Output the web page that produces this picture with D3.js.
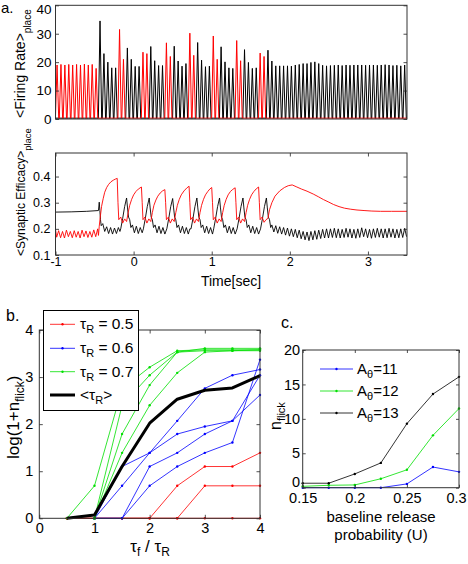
<!DOCTYPE html>
<html><head><meta charset="utf-8">
<script src="https://cdn.jsdelivr.net/npm/d3@7"></script>
<style>
body{margin:0;background:#fff;}
svg{display:block;font-family:"Liberation Sans",Arial,sans-serif;}
</style></head><body>
<svg id="c" width="468" height="564"></svg>
<script>
// ---------------- DATA ----------------
// Panel a (top): population firing-rate peaks per 20 Hz cycle
const frTime = [-0.98,-0.93,-0.88,-0.83,-0.78,-0.73,-0.68,-0.63,-0.58,-0.53,-0.48,-0.43,-0.38,-0.33,-0.28,-0.23,-0.18,-0.13,-0.08,-0.03,0.02,0.07,0.12,0.17,0.22,0.27,0.32,0.37,0.42,0.47,0.52,0.57,0.62,0.67,0.72,0.77,0.82,0.87,0.92,0.97,1.02,1.07,1.12,1.17,1.22,1.27,1.32,1.37,1.42,1.47,1.52,1.57,1.62,1.67,1.72,1.77,1.82,1.87,1.92,1.97,2.02,2.07,2.12,2.17,2.22,2.27,2.32,2.37,2.42,2.47,2.52,2.57,2.62,2.67,2.72,2.77,2.82,2.87,2.92,2.97,3.02,3.07,3.12,3.17,3.22,3.27,3.32,3.37,3.42,3.47];
const frRed = [19,19.2,19,19.2,19,19.2,19,19.3,19,19.2,17.8, 0,0,0,0,0, 31.5,21, 0,0,0,0, 23.5,23, 0,0,0,0, 26.8,22, 0,0,0,0, 30.2,22.4, 0,0,0,0, 29.2,21, 0,0,0,0, 27.6,20.5, 0,0,0,0, 23.2,22,
  0,0,0,0,0,0,0,0,0, 0,0,0,0,0,0,0,0,0, 0,0,0,0,0,0,0,0,0, 0,0,0,0,0,0,0,0,0];
const frBlack = [0,0,0,0,0,0,0,0,0,0,0, 34.5,23,20,18,18, 0,0, 25,21,18.5,18.5, 0,0, 25.5,20.5,18.8,18.8, 0,0, 25.6,20.4,18.6,19.5, 0,0, 26.9,20.7,18.4,18.6, 0,0, 25.4,20.1,18,17.8, 0,0, 24.4,19.9,17.8,18, 0,0,
  24.2,20.4,18.7,18.7,18.7,18.7,18.6,19,19.2,19.5,19.5,19.9,20.1,19.5,18.9,18.7,18.8,18.9,19,18.8,19,18.9,19,19,19,18.9,19,19,18.9,19,19.1,19,18.8,18.9,18.7,19];
const frBase = 0.3;
const frTicks = [0,10,20,30,40];

// Panel a (bottom): synaptic efficacy traces [time, value]
const effRed = [[-1,0.198],[-0.985,0.168],[-0.96,0.193],[-0.935,0.166],[-0.91,0.19],[-0.885,0.165],[-0.86,0.195],[-0.835,0.17],[-0.81,0.19],[-0.785,0.166],[-0.76,0.193],[-0.735,0.168],[-0.71,0.19],[-0.685,0.165],[-0.66,0.195],[-0.635,0.17],[-0.61,0.192],[-0.585,0.167],[-0.56,0.19],[-0.535,0.168],[-0.51,0.196],[-0.485,0.17],[-0.46,0.2],[-0.45,0.175],
 [-0.44,0.21],[-0.425,0.25],[-0.41,0.286],[-0.39,0.315],[-0.37,0.34],[-0.345,0.358],[-0.32,0.37],[-0.29,0.38],[-0.26,0.386],[-0.235,0.39],[-0.21,0.393],
 [-0.2,0.3],[-0.19,0.235],[-0.165,0.245],[-0.14,0.222],[-0.115,0.238],[-0.09,0.228],[-0.07,0.262],[-0.05,0.29],[-0.025,0.313],[0.0,0.33],[0.03,0.343],[0.06,0.352],[0.1,0.36],
 [0.11,0.3],[0.12,0.235],[0.145,0.245],[0.17,0.222],[0.195,0.238],[0.22,0.228],[0.24,0.262],[0.26,0.29],[0.285,0.31],[0.31,0.325],[0.34,0.337],[0.37,0.345],[0.4,0.35],
 [0.41,0.3],[0.42,0.235],[0.445,0.245],[0.47,0.222],[0.495,0.238],[0.52,0.228],[0.54,0.262],[0.56,0.29],[0.585,0.313],[0.61,0.33],[0.645,0.345],[0.68,0.356],[0.71,0.363],
 [0.72,0.3],[0.73,0.235],[0.755,0.245],[0.78,0.222],[0.805,0.238],[0.83,0.228],[0.85,0.262],[0.87,0.29],[0.895,0.313],[0.92,0.33],[0.95,0.343],[0.975,0.352],[1.0,0.358],
 [1.01,0.3],[1.02,0.235],[1.045,0.245],[1.07,0.222],[1.095,0.238],[1.12,0.228],[1.14,0.262],[1.16,0.29],[1.185,0.313],[1.21,0.33],[1.24,0.343],[1.27,0.351],[1.3,0.357],
 [1.31,0.3],[1.32,0.235],[1.345,0.245],[1.37,0.222],[1.395,0.238],[1.42,0.228],[1.44,0.262],[1.46,0.29],[1.485,0.313],[1.51,0.33],[1.54,0.343],[1.57,0.353],[1.6,0.36],
 [1.61,0.3],[1.62,0.235],[1.645,0.245],[1.67,0.225],[1.695,0.235],[1.72,0.24],
 [1.74,0.273],[1.77,0.3],[1.81,0.325],[1.87,0.345],[1.93,0.358],[1.98,0.365],[2.03,0.368],[2.09,0.36],[2.15,0.352],[2.22,0.344],[2.3,0.333],[2.37,0.322],[2.43,0.312],[2.5,0.302],[2.56,0.293],[2.63,0.285],[2.7,0.279],[2.78,0.275],[2.86,0.272],[2.95,0.27],[3.05,0.268],[3.16,0.267],[3.3,0.267],[3.5,0.267]];
const effBlack = [[-1,0.264],[-0.8,0.265],[-0.6,0.267],[-0.45,0.27],[-0.44,0.302],[-0.432,0.27],[-0.424,0.235],[-0.415,0.212],[-0.395,0.22],[-0.37,0.19],[-0.345,0.208],[-0.32,0.182],[-0.295,0.205],[-0.27,0.18],[-0.245,0.203],[-0.22,0.182],[-0.195,0.205],[-0.175,0.19],
 [-0.165,0.2],[-0.14,0.24],[-0.115,0.285],[-0.09,0.318],[-0.078,0.28],[-0.065,0.245],[-0.05,0.235],[-0.035,0.205],[-0.015,0.215],[0.01,0.185],[0.035,0.21],[0.06,0.182],[0.085,0.205],[0.11,0.185],
 [0.125,0.2],[0.15,0.24],[0.175,0.285],[0.2,0.318],[0.212,0.28],[0.225,0.245],[0.24,0.235],[0.255,0.205],[0.275,0.215],[0.3,0.185],[0.325,0.21],[0.35,0.182],[0.375,0.205],[0.4,0.18],
 [0.425,0.2],[0.45,0.24],[0.475,0.285],[0.5,0.316],[0.512,0.28],[0.525,0.245],[0.54,0.235],[0.555,0.205],[0.575,0.215],[0.6,0.185],[0.625,0.21],[0.65,0.182],[0.675,0.205],[0.7,0.18],[0.72,0.2],
 [0.735,0.2],[0.76,0.24],[0.785,0.285],[0.81,0.318],[0.822,0.28],[0.835,0.245],[0.85,0.235],[0.865,0.205],[0.885,0.215],[0.91,0.185],[0.935,0.21],[0.96,0.182],[0.985,0.205],[1.01,0.18],
 [1.025,0.2],[1.05,0.24],[1.075,0.285],[1.1,0.318],[1.112,0.28],[1.125,0.245],[1.14,0.235],[1.155,0.205],[1.175,0.215],[1.2,0.185],[1.225,0.21],[1.25,0.182],[1.275,0.205],[1.3,0.18],
 [1.325,0.2],[1.35,0.24],[1.375,0.285],[1.4,0.318],[1.412,0.28],[1.425,0.245],[1.44,0.235],[1.455,0.205],[1.475,0.215],[1.5,0.185],[1.525,0.21],[1.55,0.182],[1.575,0.205],[1.6,0.18],
 [1.625,0.2],[1.65,0.24],[1.675,0.285],[1.7,0.318],[1.712,0.28],[1.725,0.245],[1.74,0.235],[1.755,0.205],
 [1.77,0.215],[1.795,0.188],[1.82,0.212],[1.845,0.183],[1.87,0.208],[1.895,0.18],[1.92,0.205],[1.945,0.176],[1.97,0.203],[1.995,0.172],[2.02,0.2],[2.045,0.17],[2.07,0.198],[2.095,0.166],[2.12,0.195],[2.145,0.162],[2.17,0.19],[2.195,0.158],[2.22,0.188],[2.245,0.155],[2.27,0.19],[2.295,0.158],[2.32,0.193],[2.345,0.16],[2.37,0.195],[2.395,0.163],[2.42,0.198],[2.445,0.165],[2.47,0.2],[2.495,0.165],[2.52,0.2],[2.545,0.167],[2.57,0.202],[2.595,0.166],[2.62,0.2],[2.645,0.165],[2.67,0.198],[2.695,0.167],[2.72,0.202],[2.745,0.168],[2.77,0.2],[2.795,0.165],[2.82,0.198],[2.845,0.164],[2.87,0.2],[2.895,0.167],[2.92,0.204],[2.945,0.17],[2.97,0.2],[2.995,0.166],[3.02,0.198],[3.045,0.164],[3.07,0.2],[3.095,0.167],[3.12,0.202],[3.145,0.168],[3.17,0.2],[3.195,0.165],[3.22,0.2],[3.245,0.166],[3.27,0.202],[3.295,0.168],[3.32,0.2],[3.345,0.165],[3.37,0.198],[3.395,0.166],[3.42,0.2],[3.445,0.167],[3.47,0.202],[3.495,0.17]];
const effTicks = [0.1,0.2,0.3,0.4];
const timeTicks = [-1,0,1,2,3];

// Panel b
const bX = [0.5,1,1.5,2,2.5,3,3.5,4];
const bRed = [[0,0,0,0,0.69,1.1,1.1,1.39],[0,0,0,0,0,0.69,0.69,0.69],[0,0,0,0,0,0,0,0]];
const bBlue = [[null,0,0.69,1.39,2.07,2.76,3.04,3.16],[null,0,1.1,1.39,1.79,1.95,2.07,2.62],[null,0,0,1.1,1.39,1.79,2.07,3.04],[null,0,0,0.69,1.1,1.39,1.61,3.37]];
const bGreen = [[0,0.69,2.75,3.21,3.56,3.58,3.58,3.58],[null,0,2.4,3.04,3.53,3.56,3.56,3.58],[null,0,1.79,2.83,3.53,3.61,3.61,3.61],[null,0,1.39,2.4,3.09,3.53,3.56,3.56]];
const bMean = [0,0.07,1.1,2.02,2.53,2.72,2.77,3.03];
const bTicks = [0,1,2,3,4];
const bLegend = ["0.5","0.6","0.7"];

// Panel c
const cX = [0.15,0.175,0.2,0.225,0.25,0.275,0.3];
const cA11 = [0,0,0,0,0.55,3.0,2.3];
const cA12 = [0.2,0.35,0.4,1.3,2.6,7.6,11.5];
const cA13 = [0.65,0.65,2.0,3.6,9.3,13.6,16.1];
const cXTicks = [0.15,0.2,0.25,0.3];
const cYTicks = [0,5,10,15,20];
const cLegend = ["11","12","13"];

// ---------------- DRAW ----------------
const FONT = '"Liberation Sans", Arial, sans-serif';
const RED = "#ff0000", BLUE = "#0000ff", GREEN = "#00e000", BLK = "#000";
const svg = d3.select("#c");

const xA = d3.scaleLinear([-1,3.5],[55.5,407]);
const yFR = d3.scaleLinear([0,40],[119,5.3]);
const yEf = d3.scaleLinear([0.1,0.49],[255,153]);
const xB = d3.scaleLinear([0,4],[39.3,260]);
const yB = d3.scaleLinear([0,4],[518.3,330]);
const xC = d3.scaleLinear([0.15,0.3],[302.7,459]);
const yC = d3.scaleLinear([0,20],[487.7,350]);

function clip(id, x, y) {
  svg.append("clipPath").attr("id", id).append("rect")
    .attr("x", x.range()[0]).attr("y", y.range()[1])
    .attr("width", x.range()[1]-x.range()[0]).attr("height", y.range()[0]-y.range()[1]);
}
clip("cpA", xA, yFR); clip("cpE", xA, yEf);

function frame(x, y, o) {
  const [x0,x1] = x.range(), [yb,yt] = y.range();
  const g = svg.append("g");
  const ly = g.append("g").attr("transform",`translate(${x0},0)`)
    .call(d3.axisLeft(y).tickValues(o.yt).tickSize(-o.ts).tickPadding(o.yp).tickFormat(o.yf));
  g.append("g").attr("transform",`translate(${x1},0)`)
    .call(d3.axisRight(y).tickValues(o.yt).tickSize(-o.ts).tickFormat(""));
  let lx = null;
  if (o.xt) {
    lx = g.append("g").attr("transform",`translate(0,${yb})`)
      .call(d3.axisBottom(x).tickValues(o.xt).tickSize(-o.ts).tickPadding(o.xp).tickFormat(o.xf));
    g.append("g").attr("transform",`translate(0,${yt})`)
      .call(d3.axisTop(x).tickValues(o.xt).tickSize(-o.ts).tickFormat(""));
  }
  g.selectAll(".domain").remove();
  g.selectAll(".tick line").attr("stroke","#222").attr("stroke-width",0.8);
  g.selectAll(".tick text").attr("font-size",o.fs).attr("font-family",FONT).attr("fill","#000");
  g.append("rect").attr("x",x0).attr("y",yt).attr("width",x1-x0).attr("height",yb-yt)
    .attr("fill","none").attr("stroke","#333").attr("stroke-width",1);
  return {g, ly, lx};
}

// ---- panel a top: firing rates
function spikes(peaks) {
  const pts = [[-1, frBase]];
  frTime.forEach((t,i) => {
    if (peaks[i] > 0) { pts.push([t-0.021, frBase], [t, peaks[i]], [t+0.021, frBase]); }
    else pts.push([t, frBase]);
  });
  pts.push([3.5, frBase]);
  return pts;
}
const lineFR = d3.line().x(d => xA(d[0])).y(d => yFR(d[1]));
const gA = svg.append("g").attr("clip-path","url(#cpA)");
gA.append("path").attr("d", lineFR(spikes(frBlack))).attr("fill","none").attr("stroke",BLK).attr("stroke-width",1);
gA.append("path").attr("d", lineFR(spikes(frRed))).attr("fill","none").attr("stroke",RED).attr("stroke-width",1);
const fA = frame(xA, yFR, {yt:frTicks, ts:3.5, yp:4, yf:d=>String(d), fs:13.5});
fA.ly.selectAll(".tick text").filter(d => d === 40).attr("dy","0.62em");

// ---- panel a bottom: efficacy
const lineEf = d3.line().x(d => xA(d[0])).y(d => yEf(d[1]));
const gE = svg.append("g").attr("clip-path","url(#cpE)");
gE.append("path").attr("d", lineEf(effBlack)).attr("fill","none").attr("stroke",BLK).attr("stroke-width",0.9);
gE.append("path").attr("d", lineEf(effRed)).attr("fill","none").attr("stroke",RED).attr("stroke-width",0.9);
frame(xA, yEf, {yt:effTicks, ts:3.5, yp:5, yf:d3.format(".1f"), xt:timeTicks, xp:2, xf:d=>String(d), fs:12.5});

svg.append("text").attr("x",231).attr("y",286).attr("text-anchor","middle").attr("font-size",14).text("Time[sec]");
function rotLabel(x, y, main, sub, fs, sfs, dy, tail) {
  const t = svg.append("text").attr("transform",`translate(${x},${y}) rotate(-90)`).attr("font-size",fs);
  t.append("tspan").text(main);
  t.append("tspan").attr("dy",dy).attr("font-size",sfs).text(sub);
  if (tail) t.append("tspan").attr("dy",-dy).text(tail);
  return t;
}
rotLabel(25, 118, "<Firing Rate>", "place", 14, 10, 6);
rotLabel(25, 256, "<Synaptic Efficacy>", "place", 12, 9.5, 6);
svg.append("text").attr("x",1).attr("y",13).attr("font-size",15).text("a.");

// ---- panel b
const lineB = d3.line().defined(d => d[1] != null).x(d => xB(d[0])).y(d => yB(d[1]));
function seriesB(vals, color, w, marker) {
  const pts = bX.map((x,i) => [x, vals[i]]);
  svg.append("path").attr("d", lineB(pts)).attr("fill","none").attr("stroke",color).attr("stroke-width",w).attr("stroke-linejoin","round");
  if (marker) svg.append("g").selectAll("circle").data(pts.filter(d => d[1] != null)).join("circle")
    .attr("cx", d => xB(d[0])).attr("cy", d => yB(d[1])).attr("r",1.2).attr("fill",color);
}
bRed.forEach(v => seriesB(v, RED, 0.8, true));
bBlue.forEach(v => seriesB(v, BLUE, 0.8, true));
bGreen.forEach(v => seriesB(v, GREEN, 0.8, true));
seriesB(bMean, BLK, 3, false);
frame(xB, yB, {yt:bTicks, ts:3.5, yp:6, yf:d=>String(d), xt:bTicks, xp:4.5, xf:d=>String(d), fs:14.5});

// legend b
const lgB = svg.append("g");
lgB.append("rect").attr("x",43.5).attr("y",310.5).attr("width",95).attr("height",100).attr("fill","#fff").attr("stroke","#000").attr("stroke-width",1);
const lbRows = [324.3, 348.3, 371.7, 395];
[RED, BLUE, GREEN].forEach((c,i) => {
  lgB.append("line").attr("x1",50).attr("x2",75).attr("y1",lbRows[i]).attr("y2",lbRows[i]).attr("stroke",c).attr("stroke-width",0.8);
  lgB.append("circle").attr("cx",62.5).attr("cy",lbRows[i]).attr("r",1.2).attr("fill",c);
  const t = lgB.append("text").attr("x",80).attr("y",lbRows[i]+5).attr("font-size",15.5);
  t.append("tspan").text("τ");
  t.append("tspan").attr("dy",4).attr("font-size",11).text("R");
  t.append("tspan").attr("dy",-4).text(" = " + bLegend[i]);
});
lgB.append("line").attr("x1",50).attr("x2",75).attr("y1",lbRows[3]).attr("y2",lbRows[3]).attr("stroke",BLK).attr("stroke-width",3);
{
  const t = lgB.append("text").attr("x",80).attr("y",lbRows[3]+5).attr("font-size",15.5);
  t.append("tspan").text("<τ");
  t.append("tspan").attr("dy",4).attr("font-size",11).text("R");
  t.append("tspan").attr("dy",-4).text(">");
}
{
  const t = svg.append("text").attr("x",150).attr("y",552).attr("text-anchor","middle").attr("font-size",17);
  t.append("tspan").text("τ");
  t.append("tspan").attr("dy",4).attr("font-size",12).text("f");
  t.append("tspan").attr("dy",-4).text(" / τ");
  t.append("tspan").attr("dy",4).attr("font-size",12).text("R");
}
rotLabel(19, 459, "log(1+n", "flick", 17, 12, 5, ")");
svg.append("text").attr("x",6).attr("y",321).attr("font-size",16).text("b.");

// ---- panel c
const lineC = d3.line().x(d => xC(d[0])).y(d => yC(d[1]));
function seriesC(vals, color) {
  const pts = cX.map((x,i) => [x, vals[i]]);
  svg.append("path").attr("d", lineC(pts)).attr("fill","none").attr("stroke",color).attr("stroke-width",0.8);
  svg.append("g").selectAll("circle").data(pts).join("circle")
    .attr("cx", d => xC(d[0])).attr("cy", d => yC(d[1])).attr("r",1.2).attr("fill",color);
}
seriesC(cA11, BLUE); seriesC(cA12, GREEN); seriesC(cA13, BLK);
const fC = frame(xC, yC, {yt:cYTicks, ts:3, yp:2.5, yf:d=>String(d), xt:cXTicks, xp:5, xf:d=>String(d), fs:14.5});
fC.lx.selectAll(".tick text").filter(d => d === 0.3).attr("dx","-3");
fC.ly.selectAll(".tick text").filter(d => d === 0).attr("dy","-0.1em");
const lcRows = [369, 391, 413];
[BLUE, GREEN, BLK].forEach((c,i) => {
  svg.append("line").attr("x1",320).attr("x2",353).attr("y1",lcRows[i]).attr("y2",lcRows[i]).attr("stroke",c).attr("stroke-width",0.8);
  svg.append("circle").attr("cx",336.5).attr("cy",lcRows[i]).attr("r",1.2).attr("fill",c);
  const t = svg.append("text").attr("x",357).attr("y",lcRows[i]+5).attr("font-size",15);
  t.append("tspan").text("A");
  t.append("tspan").attr("dy",4).attr("font-size",11).text("θ");
  t.append("tspan").attr("dy",-4).text("=" + cLegend[i]);
});
svg.append("text").attr("x",381).attr("y",522).attr("text-anchor","middle").attr("font-size",15).text("baseline release");
svg.append("text").attr("x",381).attr("y",540).attr("text-anchor","middle").attr("font-size",15).text("probability (U)");
rotLabel(281, 430, "n", "flick", 16, 11, 4);
svg.append("text").attr("x",281).attr("y",328).attr("font-size",16).text("c.");
</script>
</body></html>
